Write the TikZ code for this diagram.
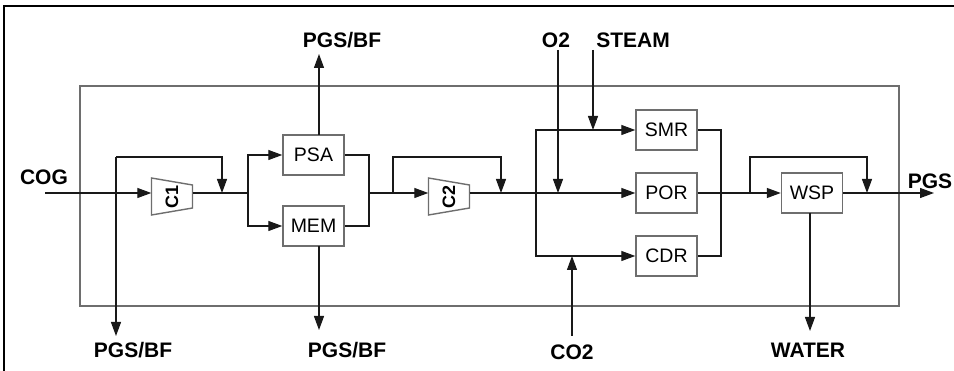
\documentclass[tikz,border=0pt]{standalone}
\usepackage{fontspec}
\setmainfont{Liberation Sans}
\usetikzlibrary{arrows.meta,calc}
\definecolor{boxgray}{RGB}{110,110,110}
\definecolor{linecol}{RGB}{25,25,25}
\tikzset{
  arr/.style={draw=linecol,line width=1.2pt,-{Triangle[length=14pt,width=10pt]}},
  ln/.style={draw=linecol,line width=1.2pt},
  unit/.style={draw=boxgray,line width=1.4pt,fill=white,rectangle,minimum width=61pt,minimum height=40pt,inner sep=0pt,font=\fontsize{19.5}{19.5}\selectfont},
  comp/.style={draw=none,rectangle,minimum width=41pt,minimum height=30pt,inner sep=0pt},
  compline/.style={draw=boxgray,line width=1.4pt,fill=white},
  comptext/.style={rotate=90,font=\bfseries\fontsize{18}{18}\selectfont,inner sep=0pt},
  lbl/.style={font=\bfseries\fontsize{21}{21}\selectfont,inner sep=0pt,text=black},
}
\begin{document}
\begin{tikzpicture}[x=1pt,y=-1pt]
\useasboundingbox (0,0) rectangle (954,371);
% outer frame (top and left) and inner box
\draw[line width=1.6pt,black] (4,371) -- (4,6) -- (954,6);
\draw[boxgray,line width=1.4pt] (80,86) rectangle (899,306);

% units
\node[unit] (psa) at (313.5,155) {PSA};
\node[unit] (mem) at (313.5,226) {MEM};
\node[unit] (smr) at (666.5,130) {SMR};
\node[unit] (por) at (666.5,193) {POR};
\node[unit] (cdr) at (666.5,256) {CDR};
\node[unit] (wsp) at (812,193) {WSP};

% compressors
\node[comp] (c1) at (172,193) {};
\draw[compline] ($(c1)+(-20.5,-15)$) -- ($(c1)+(20.5,-8)$) -- ($(c1)+(20.5,15)$) -- ($(c1)+(-20.5,22)$) -- cycle;
\node[comptext] (c1t) at ($(c1)+(0,4)$) {C1};
\node[comp] (c2) at (449,193) {};
\draw[compline] ($(c2)+(-20.5,-15)$) -- ($(c2)+(20.5,-8)$) -- ($(c2)+(20.5,15)$) -- ($(c2)+(-20.5,22)$) -- cycle;
\node[comptext] (c2t) at ($(c2)+(0,4)$) {C2};

% labels
\node[lbl] (cog) at (44,177) {COG};
\node[lbl] (pgbftop) at (342,40) {PGS/BF};
\node[lbl] (o2) at (556,40) {O2};
\node[lbl] (steam) at (633,40) {STEAM};
\node[lbl] (pgbf1) at (133,350) {PGS/BF};
\node[lbl] (pgbf2) at (347,350) {PGS/BF};
\node[lbl] (co2) at (572,352) {CO2};
\node[lbl] (water) at (808,350) {WATER};
\node[lbl] (pgs) at (930,181) {PGS};

% coordinates
\coordinate (cogin) at (45,193);
\coordinate (j1) at (116,193);
\coordinate (b1t) at (116,157);
\coordinate (b1r) at (222,157);
\coordinate (j2) at (222,193);
\coordinate (pg1) at (116,336);
\coordinate (j3) at (248,193);
\coordinate (psaup) at (319,135);
\coordinate (pgtop) at (319,54);
\coordinate (memdn) at (319,246);
\coordinate (pg2) at (319,330);
\coordinate (m1) at (369,193);
\coordinate (j5) at (393,193);
\coordinate (b2t) at (393,157);
\coordinate (b2r) at (501,157);
\coordinate (j6) at (501,193);
\coordinate (j7) at (536,193);
\coordinate (o2t) at (558,50);
\coordinate (o2j) at (558,193);
\coordinate (stt) at (593,50);
\coordinate (stj) at (593,130);
\coordinate (co2b) at (572,336);
\coordinate (co2j) at (572,256);
\coordinate (m2) at (721,193);
\coordinate (j8) at (750,193);
\coordinate (b3t) at (750,157);
\coordinate (b3r) at (867,157);
\coordinate (j9) at (867,193);
\coordinate (pgsout) at (934,193);
\coordinate (wspdn) at (810,213);
\coordinate (wat) at (810,331);

% connectors
\draw[arr] (cogin) -- (c1.west);
\draw[arr] (pg1 |- b1t) -- (pg1);
\draw[arr] (b1t) -- (b1r) -- (j2);
\draw[ln] (c1.east) -- (j3);
\draw[arr] (j3) |- (psa.west);
\draw[arr] (j3) |- (mem.west);
\draw[arr] (psaup) -- (pgtop);
\draw[arr] (memdn) -- (pg2);
\draw[ln] (psa.east) -| (m1) |- (mem.east);
\draw[arr] (m1) -- (c2.west);
\draw[arr] (j5) -- (b2t) -- (b2r) -- (j6);
\draw[arr] (c2.east) -- (por.west);
\draw[arr] (j7) |- (smr.west);
\draw[arr] (j7) |- (cdr.west);
\draw[arr] (o2t) -- (o2j);
\draw[arr] (stt) -- (stj);
\draw[arr] (co2b) -- (co2j);
\draw[ln] (smr.east) -| (m2) |- (cdr.east);
\draw[arr] (por.east) -- (wsp.west);
\draw[arr] (j8) -- (b3t) -- (b3r) -- (j9);
\draw[arr] (wsp.east) -- (pgsout);
\draw[arr] (wspdn) -- (wat);
\end{tikzpicture}
\end{document}
